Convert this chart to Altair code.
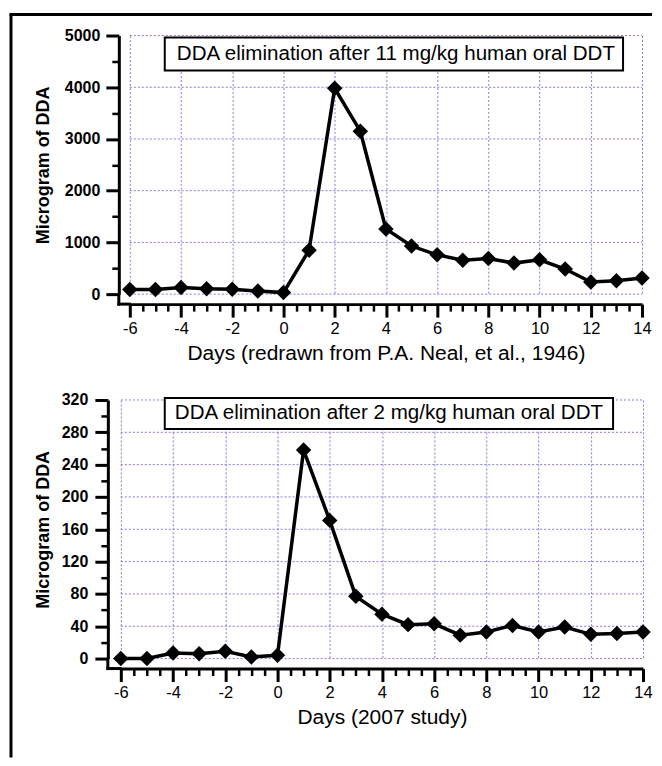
import altair as alt
import pandas as pd

# ---------------- data ----------------
days = list(range(-6, 15))
dda_1946 = [90, 90, 130, 105, 95, 60, 30, 850, 3980, 3150, 1260, 930, 760,
            655, 690, 600, 665, 485, 235, 260, 310]
dda_2007 = [0, 0, 7, 6, 9, 2, 4, 258, 171, 77, 55, 42, 43,
            29, 33, 41, 33, 39, 30, 31, 33]

x_major = list(range(-6, 15, 2))
x_minor = [h / 2 for h in range(-12, 29) if h % 4 != 0]
y_major_1946 = list(range(0, 5001, 1000))
y_minor_1946 = list(range(500, 5000, 1000))
y_major_2007 = list(range(0, 321, 40))
y_minor_2007 = list(range(20, 320, 40))

box_1946 = "DDA elimination after 11 mg/kg human oral DDT"
box_2007 = "DDA elimination after 2 mg/kg human oral DDT"
xtitle_1946 = "Days (redrawn from P.A. Neal, et al., 1946)"
xtitle_2007 = "Days (2007 study)"
ytitle = "Microgram of DDA"

FONT = "Liberation Sans, Arial, Helvetica, sans-serif"
GRID = "#7b7be6"
W, H = 523, 259


def panel(values, y_major, y_minor, y_max, x_range, y_offset, y_label_pad,
          y_title_pad, x_title, box_text, box, text_xy, frame=False):
    df = pd.DataFrame({"day": days, "dda": values})
    one = pd.DataFrame({"k": [0]})
    xs = alt.Scale(domain=[-6, 14], range=x_range, nice=False, zero=False)
    ys = alt.Scale(domain=[0, y_max], nice=False, zero=False)

    x_axis = alt.Axis(values=x_major, labelExpr="datum.value", orient="bottom",
                      offset=10, domainColor="black", domainWidth=3,
                      tickColor="black", tickWidth=3, tickSize=13,
                      labelFont=FONT, labelFontSize=16.5, labelColor="black",
                      labelPadding=3, labelFlush=False, labelOverlap=False,
                      title=x_title, titleFont=FONT, titleFontSize=21,
                      titleFontWeight="normal", titleColor="black",
                      titlePadding=6, grid=True, gridColor=GRID,
                      gridDash=[2, 2], gridWidth=1)
    y_axis = alt.Axis(values=y_major, labelExpr="datum.value", orient="left",
                      offset=y_offset, domainColor="black", domainWidth=3,
                      tickColor="black", tickWidth=3, tickSize=13,
                      labelFont=FONT, labelFontSize=16, labelFontWeight="bold",
                      labelColor="black",
                      labelPadding=y_label_pad, labelOverlap=False,
                      title=ytitle, titleFont=FONT, titleFontSize=18,
                      titleFontWeight="bold", titleColor="black",
                      titlePadding=y_title_pad, grid=False)
    x_minor_axis = alt.Axis(values=x_minor, orient="bottom", offset=10,
                            domain=False, labels=False, tickColor="black",
                            tickWidth=2.5, tickSize=7, grid=False, title=None)
    y_minor_axis = alt.Axis(values=y_minor, orient="left", offset=y_offset,
                            domain=False, labels=False, tickColor="black",
                            tickWidth=2.5, tickSize=7, grid=False, title=None)

    grid_df = pd.DataFrame({"v": y_major, "x0": -6, "x1": 14})
    hgrid = alt.Chart(grid_df).mark_rule(
        color=GRID, strokeWidth=1, strokeDash=[2, 2]).encode(
        x=alt.X("x0:Q", scale=xs, axis=None), x2="x1:Q",
        y=alt.Y("v:Q", scale=ys, axis=None))

    bx0, by0, bx1, by1 = box
    rect = alt.Chart(one).mark_rect(fill="white", stroke="black",
                                    strokeWidth=2).encode(
        x=alt.value(bx0), x2=alt.value(bx1), y=alt.value(by0), y2=alt.value(by1))
    txt = alt.Chart(pd.DataFrame({"t": [box_text]})).mark_text(
        font=FONT, fontSize=20.6, color="black", align="center",
        baseline="middle").encode(
        x=alt.value(text_xy[0]), y=alt.value(text_xy[1]), text="t:N")

    minor = alt.Chart(df).mark_point(opacity=0).encode(
        x=alt.X("day:Q", scale=xs, axis=x_minor_axis),
        y=alt.Y("dda:Q", scale=ys, axis=y_minor_axis))
    line = alt.Chart(df).mark_line(color="black", strokeWidth=3.5).encode(
        x=alt.X("day:Q", scale=xs, axis=x_axis),
        y=alt.Y("dda:Q", scale=ys, axis=y_axis))
    pts = alt.Chart(df).mark_point(shape="diamond", filled=True, size=240,
                                   color="black", opacity=1).encode(
        x=alt.X("day:Q", scale=xs, axis=None),
        y=alt.Y("dda:Q", scale=ys, axis=None))

    ext_v = alt.Chart(one).mark_rule(color="black", strokeWidth=3).encode(
        x=alt.value(-y_offset), y=alt.value(H - 1), y2=alt.value(H + 11.5))
    ext_h = alt.Chart(one).mark_rule(color="black", strokeWidth=3).encode(
        x=alt.value(-y_offset - 1.5), x2=alt.value(x_range[0] + 1),
        y=alt.value(H + 10))

    layers = [hgrid, rect, txt, minor, line, pts, ext_v, ext_h]
    if frame:
        fl = alt.Chart(one).mark_rule(color="black", strokeWidth=3).encode(
            x=alt.value(-110), y=alt.value(-21), y2=alt.value(723))
        ft = alt.Chart(one).mark_rule(color="black", strokeWidth=3).encode(
            x=alt.value(-111.5), x2=alt.value(532), y=alt.value(-21))
        layers += [fl, ft]

    return alt.layer(*layers).resolve_axis(
        x="independent", y="independent").properties(width=W, height=H)


top = panel(dda_1946, y_major_1946, y_minor_1946, 5000, [9, 522], 2, 6, 12,
            xtitle_1946, box_1946, (44, 2, 503, 35), (275.5, 18.5), frame=True)
bottom = panel(dda_2007, y_major_2007, y_minor_2007, 320, [0, 523], 13, 7, 9,
               xtitle_2007, box_2007, (44, -2, 493, 29), (268.5, 13.5))

chart = alt.concat(top, bottom, columns=1, spacing=106, bounds="flush").properties(
    padding={"left": 0, "top": 4, "right": 0, "bottom": 0},
    background="white").configure_view(stroke=None)

chart.save("out.html", embed_options={"renderer": "svg", "actions": False})
